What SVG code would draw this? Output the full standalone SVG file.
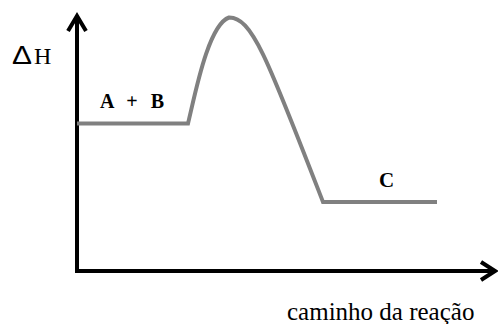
<svg xmlns="http://www.w3.org/2000/svg" width="498" height="324" viewBox="0 0 498 324">
  <style>
    .axis { fill: none; stroke: #000; stroke-width: 4; }
    .curve { fill: none; stroke: #808080; stroke-width: 4; stroke-linejoin: miter; }
    .t { font-family: 'Liberation Serif', 'Times New Roman', 'DejaVu Serif', serif; fill: #000; }
  </style>
  <rect width="498" height="324" fill="#fff"/>
  <g id="axes">
    <g id="y-axis">
      <line class="axis" x1="77" y1="16" x2="77" y2="273"/>
      <polyline class="axis" points="68,31 77,16 86,31" stroke-linejoin="miter"/>
    </g>
    <g id="x-axis">
      <line class="axis" x1="75" y1="271" x2="494" y2="271"/>
      <polyline class="axis" points="481,262 495,271 481,280" stroke-linejoin="miter"/>
    </g>
  </g>
  <g id="connectors">
    <path id="energy-curve" class="curve" d="M77,123.5 H188 C195,95 208,25 229,17.5 C252,17 268,60 323,202 H437"/>
  </g>
  <g id="label-dH">
    <text x="12" y="64" style="font-family: 'Liberation Sans', Arial, sans-serif; font-size: 26px; font-weight: normal" textLength="20" lengthAdjust="spacingAndGlyphs">Δ</text>
    <text class="t" x="34" y="64" font-size="24">H</text>
  </g>
  <g id="node-AB">
    <text class="t" x="100" y="108" font-size="20" font-weight="bold" word-spacing="8">A + B</text>
  </g>
  <g id="node-C">
    <text class="t" x="379" y="187" font-size="21" font-weight="bold">C</text>
  </g>
  <g id="label-x">
    <text class="t" x="287" y="320" font-size="25">caminho da reação</text>
  </g>
</svg>
